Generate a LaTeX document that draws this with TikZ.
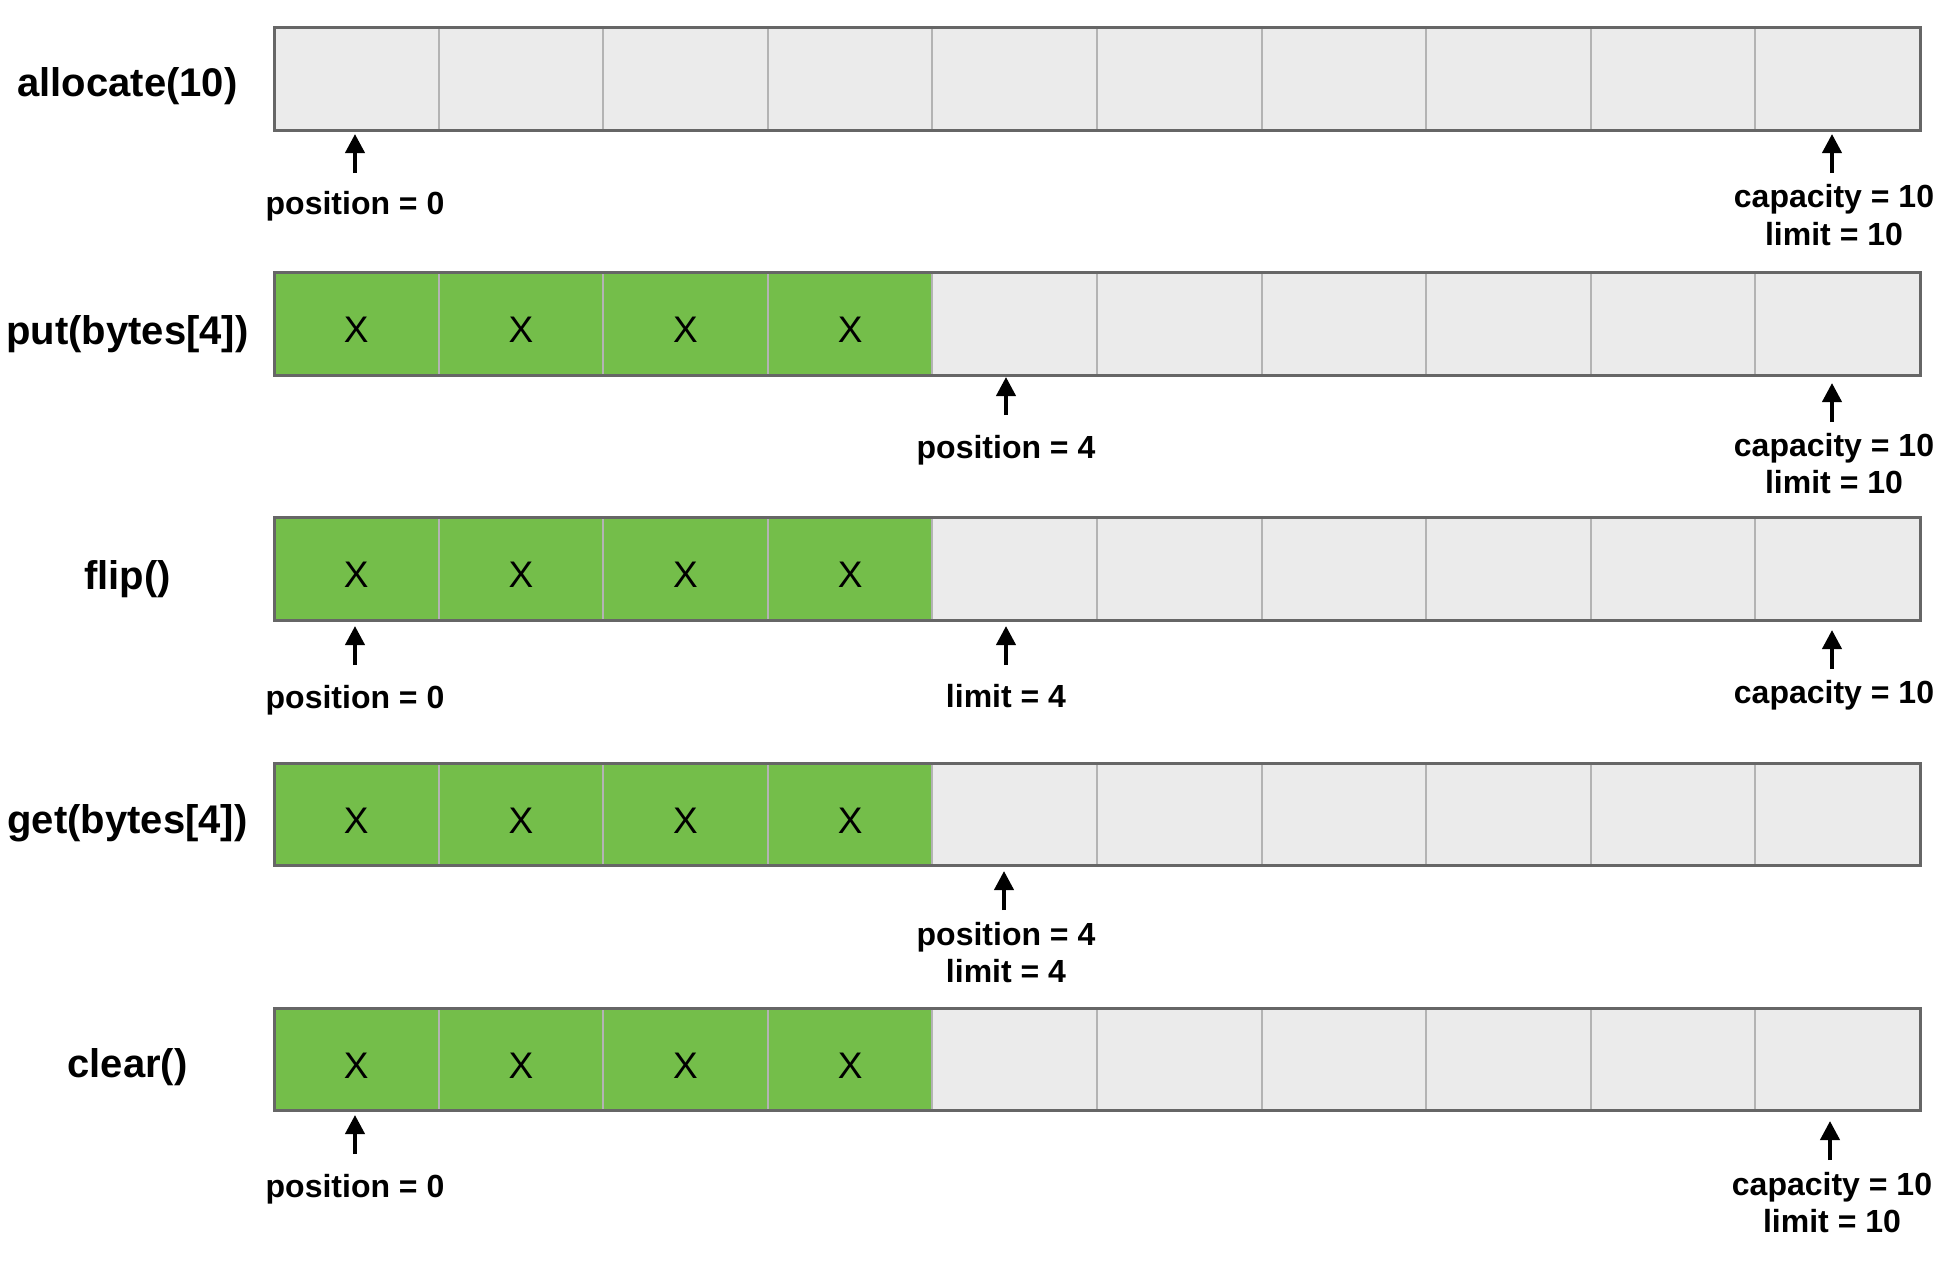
\documentclass[tikz,border=0pt]{standalone}
\usepackage{fontspec}
\setmainfont{Liberation Sans}
\usetikzlibrary{arrows.meta}
\definecolor{cellgray}{HTML}{EBEBEB}
\definecolor{divgray}{HTML}{B3B3B3}
\definecolor{bordergray}{HTML}{666666}
\definecolor{fillgreen}{HTML}{74BE4A}
\begin{document}
\begin{tikzpicture}[x=1pt,y=-1pt,
 cell/.style={rectangle, draw=divgray, line width=2pt, fill=cellgray, minimum width=164.6pt, minimum height=102.5pt, inner sep=0pt, outer sep=0pt},
 used/.style={cell, fill=fillgreen},
 xglyph/.style={inner sep=0pt, font=\fontsize{37}{44}\selectfont},
 op/.style={font=\bfseries\fontsize{40}{48}\selectfont, inner sep=0pt},
 lbl/.style={font=\bfseries\fontsize{32}{37.5}\selectfont, inner sep=0pt, align=center},
 ptr/.style={-{Triangle[length=19pt,width=19pt]}, line width=4pt, black},
 frame/.style={draw=bordergray, line width=3pt}]
\useasboundingbox (0,0) rectangle (1960,1262);
\foreach \r/\g in {1/0,2/4,3/4,4/4,5/4} {
  \pgfmathsetmacro{\yc}{78.75+245.2*(\r-1)}
  \foreach \c in {1,...,10} {
    \pgfmathsetmacro{\xc}{274+164.6*(\c-0.5)}
    \ifnum\c>\g \node[cell] (r\r-\c) at (\xc,\yc) {};\else \node[used] (r\r-\c) at (\xc,\yc) {};\node[xglyph] (x\r-\c) at (\xc,\yc+6) {X};\fi
  }
  \draw[frame] (r\r-1.north west) rectangle (r\r-10.south east);
}
% operation labels
\node[op] (op1) at (127.5,86.5) {allocate(10)};
\node[op] (op2) at (127.5,334) {put(bytes[4])};
\node[op] (op3) at (127.5,579) {flip()};
\node[op] (op4) at (127.5,823) {get(bytes[4])};
\node[op] (op5) at (127.5,1067) {clear()};
% row 1
\node[lbl] (l1a) at (355,206.5) {position = 0};
\coordinate (l1at) at (355,134); \coordinate (l1as) at (355,173);
\draw[ptr] (l1as) -- (l1at);
\node[lbl] (l1b) at (1834,215) {capacity = 10\\limit = 10};
\coordinate (l1bt) at (1832,134); \coordinate (l1bs) at (1832,173);
\draw[ptr] (l1bs) -- (l1bt);
% row 2
\node[lbl] (l2a) at (1006,450) {position = 4};
\coordinate (l2at) at (1006,377); \coordinate (l2as) at (1006,415);
\draw[ptr] (l2as) -- (l2at);
\node[lbl] (l2b) at (1834,463.5) {capacity = 10\\limit = 10};
\coordinate (l2bt) at (1832,383); \coordinate (l2bs) at (1832,422);
\draw[ptr] (l2bs) -- (l2bt);
% row 3
\node[lbl] (l3a) at (355,700) {position = 0};
\coordinate (l3at) at (355,626); \coordinate (l3as) at (355,665);
\draw[ptr] (l3as) -- (l3at);
\node[lbl] (l3b) at (1006,696) {limit = 4};
\coordinate (l3bt) at (1006,626); \coordinate (l3bs) at (1006,665);
\draw[ptr] (l3bs) -- (l3bt);
\node[lbl] (l3c) at (1834,695) {capacity = 10};
\coordinate (l3ct) at (1832,630); \coordinate (l3cs) at (1832,669);
\draw[ptr] (l3cs) -- (l3ct);
% row 4
\node[lbl] (l4a) at (1006,952.5) {position = 4\\limit = 4};
\coordinate (l4at) at (1004,871); \coordinate (l4as) at (1004,910);
\draw[ptr] (l4as) -- (l4at);
% row 5
\node[lbl] (l5a) at (355,1189) {position = 0};
\coordinate (l5at) at (355,1115); \coordinate (l5as) at (355,1154);
\draw[ptr] (l5as) -- (l5at);
\node[lbl] (l5b) at (1832,1202.5) {capacity = 10\\limit = 10};
\coordinate (l5bt) at (1830,1121); \coordinate (l5bs) at (1830,1160);
\draw[ptr] (l5bs) -- (l5bt);
\end{tikzpicture}
\end{document}
